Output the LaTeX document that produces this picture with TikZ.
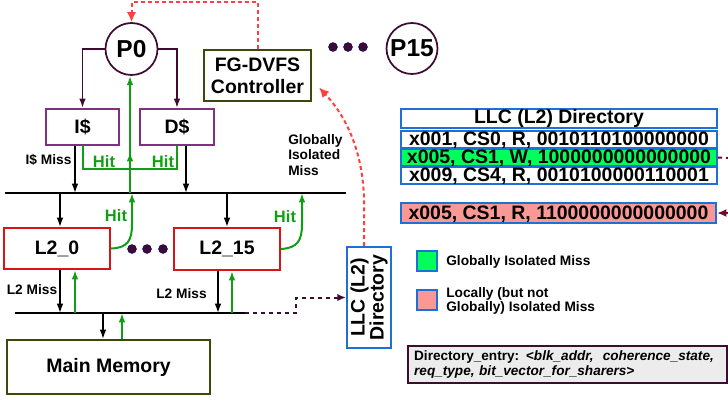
\documentclass[tikz,border=0pt]{standalone}
\usepackage{fontspec}
\setmainfont{Liberation Sans}
\usetikzlibrary{arrows.meta,calc}

\definecolor{pdark}{RGB}{62,12,48}
\definecolor{purp}{RGB}{128,48,128}
\definecolor{redb}{RGB}{214,22,22}
\definecolor{oliveb}{RGB}{62,72,12}
\definecolor{blu}{RGB}{28,112,214}
\definecolor{grn}{RGB}{18,158,18}
\definecolor{reddash}{RGB}{255,64,64}
\definecolor{darkred}{RGB}{118,8,44}
\definecolor{gfill}{RGB}{0,255,90}
\definecolor{pinkfill}{RGB}{250,152,150}
\definecolor{graybg}{RGB}{236,236,236}

\begin{document}
\begin{tikzpicture}[x=0.75pt,y=-0.75pt,
  big/.style={font=\fontsize{14.6}{16.5}\selectfont\bfseries},
  small/.style={font=\fontsize{10.3}{11.6}\selectfont\bfseries},
  hitlbl/.style={font=\fontsize{12.4}{14}\selectfont\bfseries,text=grn},
  box/.style={draw,line width=1.5pt,inner sep=0pt,fill=white},
  proc/.style={circle,draw=pdark,line width=1.3pt,inner sep=0pt,
    font=\fontsize{18.4}{20}\selectfont\bfseries},
  tip/.style={-{Latex[length=7pt,width=5pt]}},
  blkarrow/.style={line width=1.1pt,tip},
  grnline/.style={draw=grn,line width=1.5pt},
  grnarrow/.style={grnline,tip},
  busline/.style={line width=1.5pt},
  rdash/.style={draw=reddash,line width=1.5pt,dash pattern=on 3pt off 2.2pt,
    -{Latex[length=7.5pt,width=7pt]}},
  pdash/.style={draw=pdark,line width=1.5pt,dash pattern=on 3pt off 3pt,
    -{Latex[length=6.5pt,width=5.5pt]}},
  tblrow/.style={box,draw=blu,minimum width=237pt,minimum height=13pt,
    text height=11pt,text depth=1.6pt,font=\fontsize{14.6}{16}\selectfont\bfseries},
  dot/.style={fill=pdark,draw=blue!55!black,line width=0.3pt}
]
\useasboundingbox (0,0) rectangle (728,400);

% processors and the DVFS controller
\node[proc,minimum size=39pt] (p0) at (131.5,49) {P0};
\node[proc,minimum size=38.25pt] (p15) at (412,48.5) {P15};
\foreach \x in {333,348,363} \fill[dot] (\x,47) circle[radius=4.5];
\node[box,draw=oliveb,minimum width=80.25pt,minimum height=38.25pt,big,align=center]
  (fg) at (257.5,75.5) {FG-DVFS\\Controller};

% private L1 caches
\node[box,draw=purp,minimum width=54.75pt,minimum height=27pt,big] (ic) at (82.5,127) {I\$};
\node[box,draw=purp,minimum width=55.5pt,minimum height=27pt,big] (dc) at (177,127) {D\$};

% shared L2 slices
\node[box,draw=redb,minimum width=79.5pt,minimum height=30.75pt,big] (l20) at (57,248.5) {L2\_0};
\node[box,draw=redb,minimum width=79.5pt,minimum height=31.5pt,big] (l215) at (227,249) {L2\_15};
\foreach \x in {132,147,163} \fill[dot] (\x,249) circle[radius=4.5];

% main memory
\node[box,draw=oliveb,minimum width=152.25pt,minimum height=40.5pt,big] (mm) at (108.5,367) {Main Memory};

% LLC directory block
\node[box,draw=blu,rotate=90,minimum width=75.75pt,minimum height=33pt,align=center,
  font=\fontsize{14.6}{14.3}\selectfont\bfseries] (llc) at (369,297.5) {LLC (L2)\\Directory};

% buses
\coordinate (b1w) at (5,193);
\coordinate (b1e) at (346,193);
\coordinate (b2w) at (15,313);
\coordinate (b2e) at (245,313);
\draw[busline] (b1w) -- (b1e);
\draw[busline] (b2w) -- (b2e);

% processor to L1
\draw[draw=pdark,line width=1.3pt,tip] (p0.west) -| (ic.north);
\draw[draw=pdark,line width=1.3pt,tip] (p0.east) -| (dc.north);

% L1 misses and hits
\draw[blkarrow] (75,0 |- ic.south) -- (75,0 |- b1w);
\draw[blkarrow] (186,0 |- dc.south) -- (186,0 |- b1w);
\coordinate (hj) at (130,169);
\draw[grnline] (ic.south) |- (hj) -| (dc.south);
\draw[grnarrow] (hj) -- (hj |- p0.south);
\draw[grnarrow] (hj |- b1w) -- ($(hj)+(0,-17)$);
\node[hitlbl] (hit1) at (104,162) {Hit};
\node[hitlbl] (hit2) at (163,162) {Hit};
\node[small] (imiss) at (48.5,160) {I\$ Miss};

% bus to L2 and L2 hits
\draw[blkarrow] (60,0 |- b1w) -- (60,0 |- l20.north);
\draw[blkarrow] (l215.north |- b1w) -- (l215.north);
\draw[grnarrow] (l20.east) .. controls (128,248) and (132,240) .. (132,224) -- (132,0 |- b1w);
\draw[grnarrow] (l215.east) .. controls (298,248) and (302,240) .. (302,224) -- (302,0 |- b1w);
\node[hitlbl] (hit3) at (116,216) {Hit};
\node[hitlbl] (hit4) at (285,217) {Hit};

% L2 misses and fills
\draw[blkarrow] (60,0 |- l20.south) -- (60,0 |- b2w);
\draw[grnarrow] (75,0 |- b2w) -- (75,0 |- l20.south);
\draw[blkarrow] (218,0 |- l215.south) -- (218,0 |- b2w);
\draw[grnarrow] (232,0 |- b2w) -- (232,0 |- l215.south);
\node[small] (l2m1) at (32,290) {L2 Miss};
\node[small] (l2m2) at (181.5,294) {L2 Miss};

% memory traffic
\draw[blkarrow] (103,0 |- b2w) -- (103,0 |- mm.north);
\draw[grnarrow] (122,0 |- mm.north) -- (122,0 |- b2w);

% directory lookup and controller feedback
\draw[pdash] (b2e) -| ($(llc.north)+(-50,0)$) -- (llc.north);
\draw[rdash] ($(llc.east)+(-5,0)$) -- (364,200) .. controls (363,150) and (345,115) .. ($(fg.east)+(7,12)$);
\draw[rdash] (fg.north) |- ($(p0.north)+(0,-20)$) -- (p0.north);
\node[small,anchor=west,align=left,inner sep=0pt] (gim) at (288,155) {Globally\\Isolated\\Miss};

% directory table
\node[box,draw=blu,minimum width=237pt,minimum height=14.25pt,big] (hdr) at (559,118.5) {LLC (L2) Directory};
\node[tblrow] (r1) at (559,139.5) {x001, CS0, R, 0010110100000000};
\node[tblrow,fill=gfill] (r2) at (559,157.5) {x005, CS1, W, 1000000000000000};
\node[tblrow] (r3) at (559,175.5) {x009, CS4, R, 0010100000110001};
\node[tblrow,fill=pinkfill,minimum width=236.25pt,minimum height=15pt] (pk) at (558.5,213) {x005, CS1, R, 1100000000000000};
\coordinate (edge1) at (728,158);
\coordinate (edge2) at (728,213);
\draw[draw=darkred,line width=1.5pt,dash pattern=on 3pt off 3pt] (r2.east) -- (edge1);
\draw[draw=darkred,line width=1.5pt,-{Latex[length=7pt,width=6pt]}] (edge2) -- (pk.east);

% legend
\node[draw=blu,line width=1.5pt,fill=gfill,minimum size=15pt,inner sep=0pt] (lg1) at (427,261) {};
\node[draw=blu,line width=1.5pt,fill=pinkfill,minimum size=15pt,inner sep=0pt] (lg2) at (427,300) {};
\node[small,anchor=west,inner sep=0pt] (lt1) at (446,262) {Globally Isolated Miss};
\node[font=\fontsize{10.3}{10.9}\selectfont\bfseries,anchor=west,align=left,inner sep=0pt]
  (lt2) at (446,301) {Locally (but not\\Globally) Isolated Miss};

% entry format
\node[draw=pdark,line width=1.5pt,fill=graybg,minimum height=27.75pt,inner xsep=4.5pt,inner ysep=0pt,
  text width=230pt,align=left,font=\fontsize{10.2}{11.25}\selectfont\bfseries]
  (de) at (567.5,364.5)
  {Directory\_entry: <\textit{blk\_addr,~ coherence\_state,}\\\textit{req\_type, bit\_vector\_for\_sharers}>};
\end{tikzpicture}
\end{document}
